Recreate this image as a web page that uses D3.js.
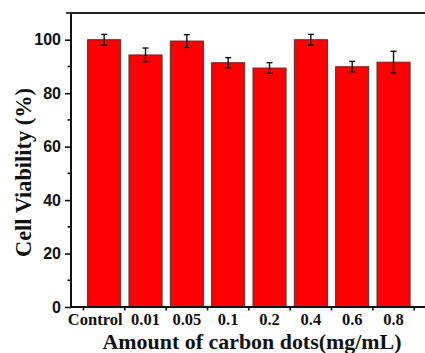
<!DOCTYPE html>
<html>
<head>
<meta charset="utf-8">
<script src="https://cdn.jsdelivr.net/npm/d3@7"></script>
<style>
  html, body { margin: 0; padding: 0; background: #fff; }
  svg { display: block; }
</style>
</head>
<body>
<svg id="chart" width="425" height="353"></svg>
<script>
const categories = ["Control", "0.01", "0.05", "0.1", "0.2", "0.4", "0.6", "0.8"];
const viability = [100.0, 94.3, 99.5, 91.4, 89.4, 100.0, 89.9, 91.6];
const errors = [2.0, 2.6, 2.4, 1.9, 2.0, 2.0, 2.0, 4.1];
const yMajorTicks = [0, 20, 40, 60, 80, 100];
const yMinorTicks = [10, 30, 50, 70, 90];
const xTitle = "Amount of carbon dots(mg/mL)";
const yTitle = "Cell Viability (%)";

(function () {
const svg = d3.select("#chart");
const mLeft = 71, mRight = 425, mTop = 13, mBottom = 307;

const x = d3.scaleBand().domain(categories).range([83.5, 414.2]).paddingInner(0.2).paddingOuter(0.1);
const y = d3.scaleLinear().domain([0, 110]).range([mBottom, mTop]);

// bars
svg.append("g").selectAll("rect").data(categories).join("rect")
  .attr("x", d => x(d))
  .attr("y", (d, i) => y(viability[i]))
  .attr("width", x.bandwidth())
  .attr("height", (d, i) => y(0) - y(viability[i]))
  .attr("fill", "#ff0000")
  .attr("stroke", "#3a3a3a")
  .attr("stroke-width", 1);

// error bars
const eg = svg.append("g").attr("stroke", "#111").attr("stroke-width", 1.4);
categories.forEach((c, i) => {
  const cx = x(c) + x.bandwidth() / 2;
  const hi = y(viability[i] + errors[i]), lo = y(viability[i] - errors[i]);
  eg.append("line").attr("x1", cx).attr("x2", cx).attr("y1", hi).attr("y2", lo);
  eg.append("line").attr("x1", cx - 3).attr("x2", cx + 3).attr("y1", hi).attr("y2", hi);
  eg.append("line").attr("x1", cx - 3).attr("x2", cx + 3).attr("y1", lo).attr("y2", lo);
});

// y axis
const yAxis = svg.append("g").attr("transform", `translate(${mLeft},0)`)
  .call(d3.axisLeft(y).tickValues(yMajorTicks).tickSize(6).tickSizeOuter(0).tickPadding(4));
yAxis.select(".domain").remove();
yAxis.selectAll(".tick line").attr("stroke", "#111").attr("stroke-width", 1.6);
yAxis.selectAll(".tick text")
  .attr("font-family", "'Liberation Sans', Arial, sans-serif")
  .attr("font-weight", "bold").attr("font-size", 16).attr("fill", "#111");
svg.append("g").selectAll("line").data(yMinorTicks).join("line")
  .attr("x1", mLeft - 3.5).attr("x2", mLeft).attr("y1", d => y(d)).attr("y2", d => y(d))
  .attr("stroke", "#111").attr("stroke-width", 1.6);

// x axis labels
const xAxis = svg.append("g").attr("transform", `translate(0,${mBottom})`)
  .call(d3.axisBottom(x).tickSize(0).tickPadding(6));
xAxis.select(".domain").remove();
xAxis.selectAll(".tick text")
  .attr("font-family", "'Liberation Serif', 'Times New Roman', serif")
  .attr("font-weight", "bold").attr("font-size", 16.5).attr("fill", "#111")
  .attr("dx", d => d === "Control" ? -9 : 0);
// x boundary ticks
const bounds = categories.map(c => x(c) + x.bandwidth() / 2 - x.step() / 2);
bounds.push(bounds[bounds.length - 1] + x.step());
svg.append("g").selectAll("line").data(bounds).join("line")
  .attr("x1", d => d).attr("x2", d => d).attr("y1", mBottom).attr("y2", mBottom + 3.5)
  .attr("stroke", "#111").attr("stroke-width", 1.6);

// frame lines
svg.append("line").attr("x1", mLeft).attr("x2", mLeft).attr("y1", mTop - 1).attr("y2", mBottom + 1)
  .attr("stroke", "#111").attr("stroke-width", 2);
svg.append("line").attr("x1", mLeft - 1).attr("x2", mRight).attr("y1", mTop).attr("y2", mTop)
  .attr("stroke", "#222").attr("stroke-width", 2);
svg.append("line").attr("x1", mLeft - 1).attr("x2", mRight).attr("y1", mBottom).attr("y2", mBottom)
  .attr("stroke", "#111").attr("stroke-width", 2);
svg.append("line").attr("x1", mLeft - 5).attr("x2", mLeft).attr("y1", mTop).attr("y2", mTop)
  .attr("stroke", "#111").attr("stroke-width", 1.6);

// titles
svg.append("text").attr("x", 252).attr("y", 349).attr("text-anchor", "middle")
  .attr("font-family", "'Liberation Serif', 'Times New Roman', serif")
  .attr("font-weight", "bold").attr("font-size", 20).attr("fill", "#111")
  .attr("textLength", 299).attr("lengthAdjust", "spacingAndGlyphs")
  .text(xTitle);
svg.append("text").attr("transform", "translate(31,172.5) rotate(-90)").attr("text-anchor", "middle")
  .attr("font-family", "'Liberation Serif', 'Times New Roman', serif")
  .attr("font-weight", "bold").attr("font-size", 23).attr("fill", "#111")
  .attr("textLength", 169).attr("lengthAdjust", "spacingAndGlyphs")
  .text(yTitle);
})();
</script>
</body>
</html>
